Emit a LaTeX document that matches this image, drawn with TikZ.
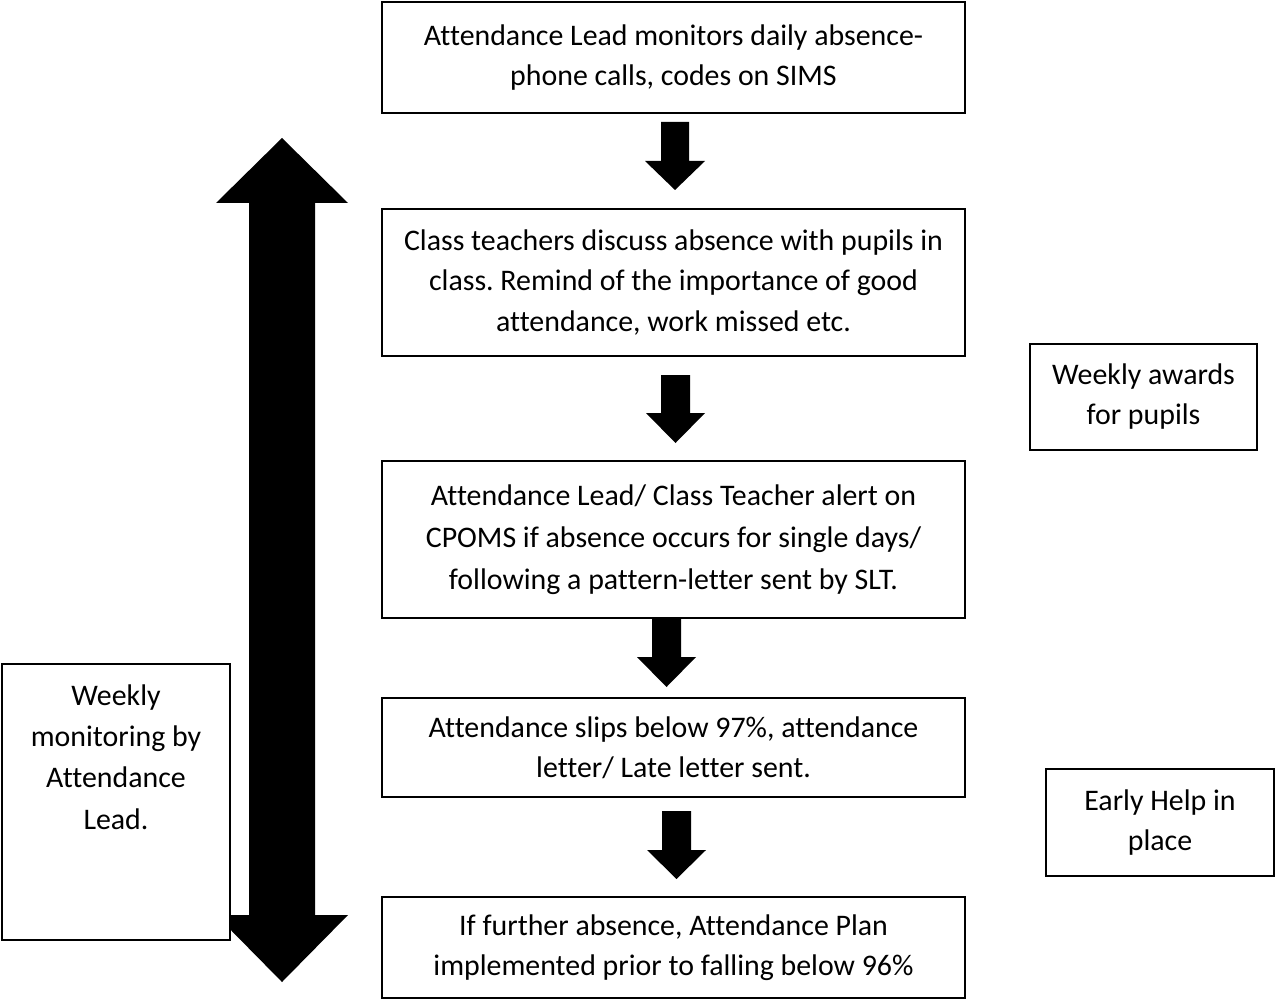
\documentclass[tikz,border=0pt]{standalone}
\usepackage{fontspec}
\setmainfont{Carlito}[Ligatures=NoCommon]
\frenchspacing
\tikzset{
  box/.style={draw=black, line width=1.1pt, fill=white, rectangle, inner sep=0pt, align=center, font=\fontsize{17}{22.8}\selectfont},
  txt/.style={inner sep=0pt, align=center, font=\fontsize{17}{23.5}\selectfont},
  blk/.style={fill=black, draw=none}
}
\newcommand\blockarr[6]{% center x, shaft half width, head half width, top y, head base y, tip y
  \fill[blk] ({#1-#2},#4) -- ({#1+#2},#4) -- ({#1+#2},#5) -- ({#1+#3},#5) -- (#1,#6) -- ({#1-#3},#5) -- ({#1-#2},#5) -- cycle;}
\begin{document}
\begin{tikzpicture}[x=0.02cm, y=-0.02cm]
\useasboundingbox (0,0) rectangle (1277,1000);
% big double arrow
\fill[blk] (282,138) -- (348,203) -- (315,203) -- (315,915) -- (348,915) -- (282,982) -- (216,915) -- (249,915) -- (249,203) -- (216,203) -- cycle;
% main boxes
\node[box, minimum width=583*0.02cm, minimum height=111*0.02cm] (b1) at (673.5,57.5)
  {Attendance Lead monitors daily absence-\\phone calls, codes on SIMS};
\node[box, minimum width=583*0.02cm, minimum height=147*0.02cm] (b2) at (673.5,282.5)
  {Class teachers discuss absence with pupils in\\class. Remind of the importance of good\\attendance, work missed etc.};
\node[box, minimum width=583*0.02cm, minimum height=157*0.02cm, font=\fontsize{17}{24}\selectfont] (b3) at (673.5,539.5)
  {Attendance Lead/ Class Teacher alert on\\CPOMS if absence occurs for single days/\\following a pattern-letter sent by SLT.};
\node[box, minimum width=583*0.02cm, minimum height=99*0.02cm] (b4) at (673.5,747.5)
  {Attendance slips below 97\%, attendance\\letter/ Late letter sent.};
\node[box, minimum width=583*0.02cm, minimum height=101*0.02cm] (b5) at (673.5,947.5)
  {If further absence, Attendance Plan\\implemented prior to falling below 96\%};
% side boxes
\node[box, minimum width=227*0.02cm, minimum height=106*0.02cm] (aw) at (1143.5,397)
  {Weekly awards\\for pupils};
\node[box, minimum width=228*0.02cm, minimum height=107*0.02cm] (eh) at (1160,822.5)
  {Early Help in\\place};
\node[box, minimum width=228*0.02cm, minimum height=276*0.02cm] (lb) at (116,802) {};
\node[txt] (lbt) at (116,757) {Weekly\\monitoring by\\Attendance\\Lead.};
% block arrows between steps
\blockarr{675}{14}{30}{122}{161}{190}
\blockarr{675.5}{14.5}{29.5}{375}{413}{443}
\blockarr{666.5}{14.5}{29.5}{618}{657}{687}
\blockarr{676.5}{14.5}{29.5}{811}{850}{879}
\end{tikzpicture}
\end{document}
